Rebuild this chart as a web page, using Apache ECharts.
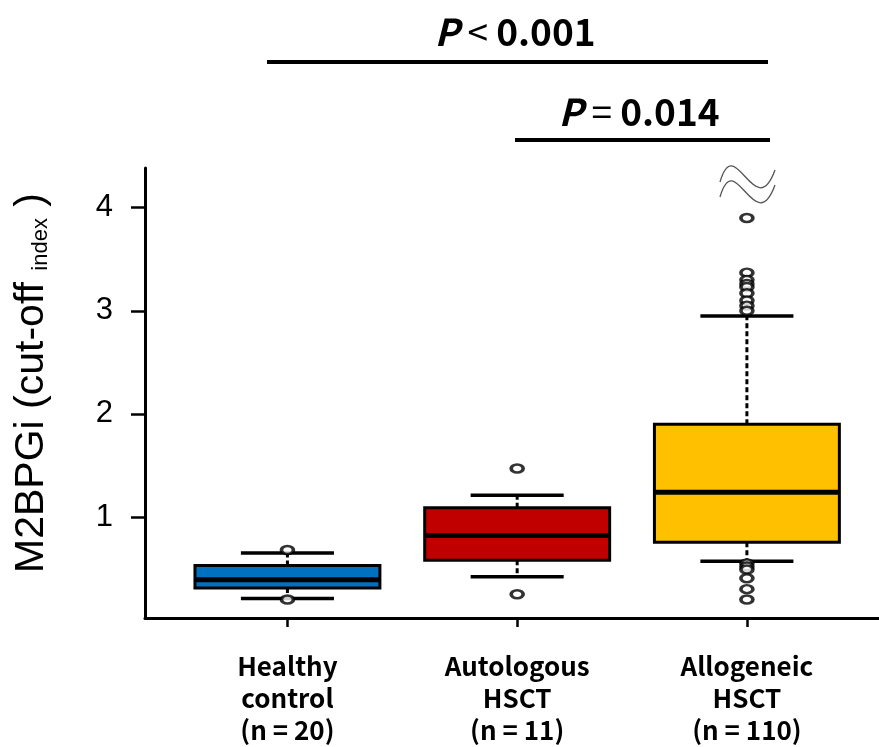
<!DOCTYPE html>
<html>
<head>
<meta charset="utf-8">
<script src="https://cdn.jsdelivr.net/npm/echarts@6/dist/echarts.min.js"></script>
<style>
  html, body { margin: 0; padding: 0; background: #fff; }
  #chart { width: 879px; height: 747px; }
</style>
</head>
<body>
<div id="chart"></div>
<script>
// groups
const categories = ['Healthy\ncontrol\n(n = 20)', 'Autologous\nHSCT\n(n = 11)', 'Allogeneic\nHSCT\n(n = 110)']
const positions = [1, 2, 3]
const boxColors = ['#0070C0', '#C00000', '#FFC000']

// box statistics
const whiskerLow = [0.21, 0.42, 0.57]
const q1 = [0.31, 0.58, 0.755]
const median = [0.39, 0.82, 1.24]
const q3 = [0.53, 1.09, 1.90]
const whiskerHigh = [0.65, 1.21, 2.95]

// outliers
const outHealthy = [0.68, 0.20]
const outAuto = [1.47, 0.25]
const outAllo = [3.90, 3.37, 3.30, 3.26, 3.23, 3.17, 3.10, 3.05, 3.00, 0.55, 0.52, 0.49, 0.405, 0.30, 0.20]

const yTicks = [1, 2, 3, 4]

const boxWidth = 0.805
const capWidth = 0.405

const boxData = positions.map((p, i) => [p, whiskerLow[i], q1[i], median[i], q3[i], whiskerHigh[i]])
const outlierData = []
;[outHealthy, outAuto, outAllo].forEach((list, i) => {
	list.forEach(v => outlierData.push([positions[i], v]))
})

const chart = echarts.init(document.getElementById('chart'))

const renderBox = (params, api) => {
	const x = api.value(0)
	const lo = api.coord([x, api.value(1)])
	const b1 = api.coord([x, api.value(2)])
	const md = api.coord([x, api.value(3)])
	const b3 = api.coord([x, api.value(4)])
	const hi = api.coord([x, api.value(5)])
	const cx = lo[0]
	const half = api.size([boxWidth, 0])[0] / 2
	const capHalf = api.size([capWidth, 0])[0] / 2
	const dash = { stroke: '#000', lineWidth: 3, lineDash: [5, 3] }
	const solid = { stroke: '#000', lineWidth: 3.5 }
	return {
		type: 'group',
		children: [
			{ type: 'line', shape: { x1: cx, y1: b3[1], x2: cx, y2: hi[1] }, style: dash },
			{ type: 'line', shape: { x1: cx, y1: b1[1], x2: cx, y2: lo[1] }, style: dash },
			{ type: 'line', shape: { x1: cx - capHalf, y1: hi[1], x2: cx + capHalf, y2: hi[1] }, style: solid },
			{ type: 'line', shape: { x1: cx - capHalf, y1: lo[1], x2: cx + capHalf, y2: lo[1] }, style: solid },
			{
				type: 'rect',
				shape: { x: cx - half, y: b3[1], width: half * 2, height: b1[1] - b3[1] },
				style: { fill: boxColors[params.dataIndex], stroke: '#000', lineWidth: 3 }
			},
			{ type: 'line', shape: { x1: cx - half, y1: md[1], x2: cx + half, y2: md[1] }, style: { stroke: '#000', lineWidth: 5 } }
		]
	}
}

const pFont = '"Noto Sans CJK JP", "Noto Sans", sans-serif'
const arial = '"Liberation Sans", Arial, sans-serif'

const pRich = {
	i: { fontFamily: pFont, fontStyle: 'italic', fontWeight: 'bold', fontSize: 37, fill: '#000', color: '#000' },
	o: { fontFamily: pFont, fontSize: 37, fill: '#000', color: '#000' },
	n: { fontFamily: pFont, fontWeight: 'bold', fontSize: 37, fill: '#000', color: '#000' }
}

const option = {
	animation: false,
	backgroundColor: '#fff',
	grid: {
		left: 145,
		right: 0,
		top: 168,
		bottom: 129,
		outerBoundsMode: 'none'
	},
	xAxis: {
		type: 'value',
		min: 0.38,
		max: 3.575,
		splitLine: { show: false },
		axisLine: { show: true, lineStyle: { color: '#000', width: 3 } },
		axisTick: { show: true, customValues: positions, length: 9, lineStyle: { color: '#000', width: 2.5 } },
		axisLabel: {
			customValues: positions,
			formatter: v => categories[Math.round(v) - 1],
			fontFamily: pFont,
			fontWeight: 'bold',
			fontSize: 26,
			lineHeight: 32,
			color: '#000',
			margin: 32
		}
	},
	yAxis: {
		type: 'value',
		min: 0.02,
		max: 4.385,
		splitLine: { show: false },
		axisLine: { show: true, lineStyle: { color: '#000', width: 3 } },
		axisTick: { show: true, customValues: yTicks, length: 14, lineStyle: { color: '#000', width: 2.5 } },
		axisLabel: {
			customValues: yTicks,
			fontFamily: arial,
			fontSize: 31,
			color: '#000',
			margin: 32
		},
		name: '{a|M2BPGi (cut-off }{b|index}{a| )}',
		nameLocation: 'middle',
		nameRotate: 90,
		nameGap: 93,
		nameTextStyle: {
			padding: [0, 0, 0, 20],
			rich: {
				a: { fontFamily: arial, fontSize: 41, color: '#000', verticalAlign: 'bottom', lineHeight: 46 },
				b: { fontFamily: arial, fontSize: 22, color: '#000', verticalAlign: 'bottom', lineHeight: 46 }
			}
		}
	},
	series: [
		{
			type: 'custom',
			renderItem: renderBox,
			encode: { x: 0, y: [1, 2, 3, 4, 5] },
			data: boxData,
			z: 2
		},
		{
			type: 'scatter',
			data: outlierData,
			symbol: 'circle',
			symbolSize: [12, 8],
			itemStyle: { color: '#fff', borderColor: '#000', borderWidth: 3 },
			z: 3
		}
	],
	graphic: [
		// significance bars
		{ type: 'line', shape: { x1: 267, y1: 62, x2: 768, y2: 62 }, style: { stroke: '#000', lineWidth: 4 } },
		{ type: 'line', shape: { x1: 515, y1: 140, x2: 770, y2: 140 }, style: { stroke: '#000', lineWidth: 4 } },
		{
			type: 'text', x: 515, y: 32,
			style: {
				text: '{i|P}{o| < }{n|0.001}',
				align: 'center', verticalAlign: 'middle', textAlign: 'center', textVerticalAlign: 'middle',
				rich: pRich
			}
		},
		{
			type: 'text', x: 639, y: 112,
			style: {
				text: '{i|P}{o| = }{n|0.014}',
				align: 'center', verticalAlign: 'middle', textAlign: 'center', textVerticalAlign: 'middle',
				rich: pRich
			}
		},
		// axis break mark
		{ type: 'bezierCurve', shape: { x1: 720, y1: 182, cpx1: 735, cpy1: 130, cpx2: 755, cpy2: 225, x2: 775, y2: 170 }, style: { stroke: '#555', lineWidth: 1.3, fill: null } },
		{ type: 'bezierCurve', shape: { x1: 720, y1: 197, cpx1: 735, cpy1: 145, cpx2: 755, cpy2: 240, x2: 775, y2: 185 }, style: { stroke: '#555', lineWidth: 1.3, fill: null } }
	]
}

chart.setOption(option)
</script>
</body>
</html>
